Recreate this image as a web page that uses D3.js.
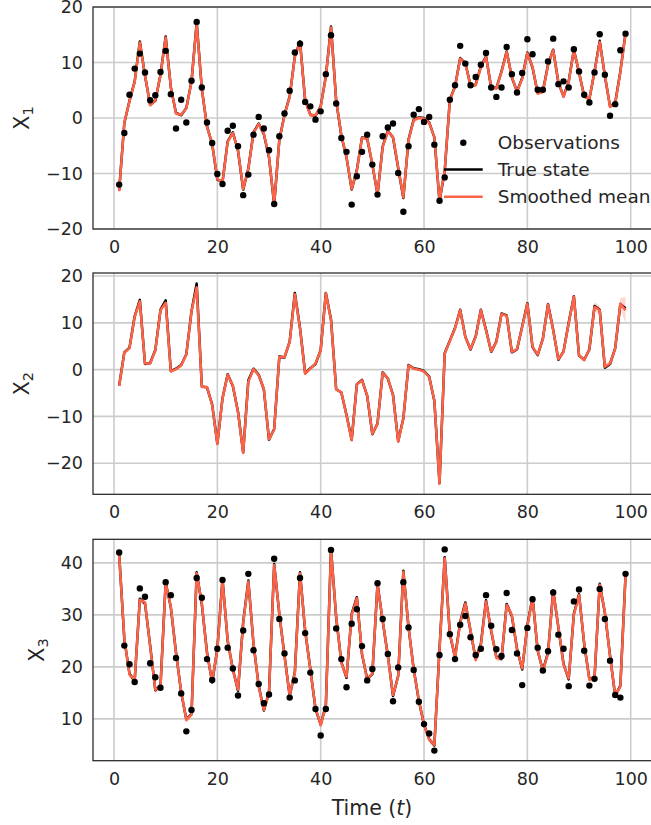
<!DOCTYPE html>
<html><head><meta charset="utf-8">
<script src="https://cdn.jsdelivr.net/npm/d3@7"></script>
<style>
body{margin:0;background:#fff}
svg{display:block}
text{font-family:"DejaVu Sans",sans-serif;fill:#262626}
</style>
</head><body><div id="chart"></div>
<script>
// ---------- data ----------
const time = [1,2,3,4,5,6,7,8,9,10,11,12,13,14,15,16,17,18,19,20,21,22,23,24,25,26,27,28,29,30,31,32,33,34,35,36,37,38,39,40,41,42,43,44,45,46,47,48,49,50,51,52,53,54,55,56,57,58,59,60,61,62,63,64,65,66,67,68,69,70,71,72,73,74,75,76,77,78,79,80,81,82,83,84,85,86,87,88,89,90,91,92,93,94,95,96,97,98,99];

const x1Obs = [-12.0,-2.7,4.2,8.9,11.6,8.2,3.2,4.1,8.3,12.1,4.3,-1.9,3.3,-0.8,6.7,17.3,5.5,-0.8,-4.5,-10.1,
  -11.9,-2.3,-1.4,-5.1,-13.9,-10.2,-3.0,0.2,-1.9,-5.8,-15.5,-3.3,0.8,4.9,11.8,13.4,2.9,2.1,-0.3,1.2,
  7.9,14.9,2.6,-3.6,-6.1,-15.6,-10.5,-6.1,-3.0,-8.4,-13.8,-3.3,-1.7,-1.0,-9.9,-16.9,-5.1,0.6,1.6,-0.7,
  0.2,-4.8,-14.9,-10.7,3.3,5.9,13.0,9.8,5.9,7.4,9.6,11.7,5.5,3.8,5.5,12.8,7.9,4.6,8.1,14.2,
  11.5,5.1,5.1,10.2,14.3,6.1,6.6,5.5,12.4,8.4,4.2,2.8,8.2,15.1,7.8,0.4,2.5,12.2,15.2];
const x1Mean = [-13.2,-0.8,3.0,6.5,13.6,7.7,2.3,3.2,7.7,14.5,5.6,0.8,0.6,1.7,6.5,16.9,5.3,-1.6,-4.6,-11.0,
  -11.6,-4.3,-2.7,-5.8,-12.8,-9.2,-2.7,-1.1,-2.8,-7.0,-15.5,-4.0,0.5,3.8,11.0,13.6,3.2,0.5,0.5,2.0,
  7.4,16.3,3.2,-3.1,-7.0,-12.8,-9.5,-3.6,-3.6,-8.3,-13.7,-5.2,-2.4,-3.4,-8.9,-14.3,-4.0,-0.4,0.0,-0.1,
  -0.9,-3.4,-14.9,-9.5,3.2,5.6,10.7,9.8,5.9,5.9,9.2,11.0,5.6,5.3,8.3,11.9,7.4,4.7,7.1,11.7,
  9.2,4.4,4.7,9.5,12.2,6.5,3.8,6.5,12.2,8.3,3.8,3.5,8.3,13.7,7.7,2.0,2.6,8.3,15.2];
const x1True = [-13.0,-0.9,3.1,6.6,13.8,7.6,2.4,3.1,7.8,14.7,5.5,0.9,0.5,1.8,6.6,17.2,5.2,-1.5,-4.7,-11.1,
  -11.5,-4.2,-2.6,-5.9,-12.9,-9.1,-2.6,-1.0,-2.9,-7.1,-15.6,-3.9,0.6,3.9,11.1,13.8,3.1,0.6,0.4,2.1,
  7.5,16.5,3.1,-3.2,-7.1,-12.9,-9.4,-3.5,-3.7,-8.4,-13.8,-5.1,-2.3,-3.5,-9.0,-14.4,-3.9,-0.3,0.1,0.0,
  -0.8,-3.5,-15.0,-9.6,3.3,5.7,10.8,9.9,5.8,6.0,9.3,11.1,5.5,5.4,8.4,12.0,7.3,4.8,7.2,11.8,
  9.1,4.5,4.8,9.6,12.3,6.4,3.9,6.6,12.3,8.2,3.9,3.4,8.4,13.9,7.6,2.1,2.7,8.4,15.3];

const x2Mean = [-3.5,3.6,4.6,11.3,14.6,1.3,1.3,4.1,12.7,14.3,-0.4,0.1,0.9,3.2,12.4,17.6,-3.7,-3.7,-7.6,-15.9,
  -6.2,-1.1,-3.4,-9.1,-17.8,-2.6,0.1,-1.2,-4.1,-14.9,-12.8,2.7,2.7,5.9,16.1,8.8,-0.9,0.2,1.3,4.1,
  16.3,10.6,-4.3,-4.8,-9.8,-15.1,-3.2,-2.3,-5.5,-13.7,-11.6,-0.7,-1.8,-5.5,-15.4,-10.5,0.9,0.2,0.0,-0.4,
  -1.6,-6.6,-24.4,3.4,6.1,8.8,12.7,6.9,4.4,7.0,12.7,8.4,3.9,5.9,11.9,11.5,3.8,4.4,9.1,14.1,
  4.9,3.2,6.5,13.9,8.4,2.2,3.8,9.9,15.6,3.1,2.0,4.4,13.4,12.7,0.6,1.3,4.5,14.1,12.7];
const x2True = [-3.4,3.7,4.7,11.4,14.9,1.2,1.4,4.2,12.8,14.8,-0.3,0.2,1.0,3.3,12.5,18.4,-3.6,-3.8,-7.5,-15.8,
  -6.1,-1.0,-3.5,-9.0,-17.7,-2.3,0.2,-1.1,-4.2,-15.0,-12.7,2.8,2.6,6.0,16.4,8.9,-0.8,0.3,1.2,4.2,
  16.4,10.7,-4.2,-4.9,-9.7,-15.0,-3.1,-2.2,-5.6,-13.8,-11.5,-0.6,-1.9,-5.4,-15.3,-10.4,1.0,0.3,0.1,-0.3,
  -1.5,-6.7,-24.3,3.5,6.2,8.9,12.8,7.0,4.3,7.1,12.8,8.5,3.8,6.0,12.0,11.6,3.7,4.3,9.2,14.2,
  4.8,3.1,6.6,14.0,8.5,2.1,3.9,10.0,15.7,3.0,2.1,4.3,13.6,12.8,0.4,1.2,4.6,14.0,13.1];

const x3Obs = [42.0,24.1,20.5,17.1,35.1,33.5,20.7,18.0,16.0,36.3,33.8,21.7,14.9,7.6,11.7,37.1,33.3,21.5,17.5,23.5,
  36.7,23.7,19.7,14.5,27.0,37.9,23.2,16.7,13.0,14.7,40.8,29.2,22.6,14.1,17.4,37.1,26.5,18.9,11.9,6.8,
  11.9,42.5,27.4,21.5,16.1,28.3,31.1,24.0,17.4,19.6,36.1,29.2,22.5,13.4,19.9,36.3,27.6,19.4,13.3,9.0,
  7.2,3.9,22.3,42.6,26.3,21.5,28.1,29.8,25.7,22.3,23.5,33.8,27.9,23.4,22.1,34.2,27.1,22.6,16.5,27.5,
  33.0,23.7,19.3,23.0,34.3,26.2,23.5,16.3,32.6,34.9,23.1,16.4,17.7,35.0,29.2,21.2,14.6,14.1,37.9];
const x3Mean = [41.5,25.5,18.5,17.5,32.9,32.4,23.9,15.6,16.2,36.1,31.6,22.6,15.3,9.8,10.8,38.0,32.2,22.6,17.2,23.3,
  36.7,25.2,19.4,15.6,28.4,36.4,24.6,16.2,11.7,14.9,39.6,30.3,22.0,14.6,18.8,38.0,27.1,19.4,12.1,8.8,
  12.4,42.5,29.7,20.7,18.1,30.0,33.2,22.6,17.5,18.8,35.8,29.0,22.0,14.6,18.1,38.3,27.8,19.4,13.7,8.8,
  6.0,5.0,23.3,40.9,26.5,21.7,28.4,32.2,27.1,21.3,24.2,32.6,27.1,21.7,21.7,31.9,30.0,23.3,19.7,27.8,
  33.2,23.3,19.1,22.6,34.5,27.8,20.4,17.8,30.0,33.8,24.6,17.5,18.1,35.8,30.6,22.0,14.6,16.2,37.4];
const x3True = [41.7,25.3,18.7,17.3,33.1,32.2,24.1,15.5,16.4,36.3,31.4,22.8,15.1,9.9,10.9,38.2,32.0,22.8,17.0,23.5,
  36.9,25.0,19.6,15.4,28.6,36.6,24.4,16.4,11.6,15.1,39.8,30.1,22.2,14.4,19.0,38.2,26.9,19.6,11.9,8.9,
  12.6,42.6,29.5,20.9,17.9,30.2,33.4,22.4,17.7,18.6,36.0,28.8,22.2,14.4,18.3,38.5,27.6,19.6,13.5,8.9,
  6.1,4.9,23.5,41.1,26.3,21.9,28.6,32.4,26.9,21.5,24.4,32.8,26.9,21.9,21.5,32.1,29.8,23.5,19.5,28.0,
  33.4,23.1,19.3,22.8,34.7,27.6,20.6,17.6,30.2,34.0,24.4,17.7,17.9,36.0,30.4,22.2,14.4,16.4,37.6];

// posterior standard deviation (band half-width)
const x1Sd = 0.35;
const x2Sd = 0.3;
const x2SdTail = [1.0,1.0,0.6,0.6,0.8,1.2,2.8];   // t = 93..99
const x3Sd = 0.6;

const xTicks = [0,20,40,60,80,100];
const yTicks1 = [-20,-10,0,10,20];
const yTicks2 = [-20,-10,0,10,20];
const yTicks3 = [10,20,30,40];
const legendLabels = ["Observations","True state","Smoothed mean"];

// ---------- drawing ----------
const W = 651, H = 825;
const RED = "#ff6347";
const svg = d3.select("#chart").append("svg").attr("width", W).attr("height", H);
const x = d3.scaleLinear().domain([0,100]).range([114, 630.7]);
const plotLeft = 93, plotRight = 672;

const panels = [
  {top:7, bottom:229, domain:[-20,20], ticks:yTicks1, sub:"1", labelX:28.5,
   obs:x1Obs, truth:x1True, mean:x1Mean, sd:time.map(() => x1Sd)},
  {top:273, bottom:494.3, domain:[-26.65,20.65], ticks:yTicks2, sub:"2", labelX:28.5,
   obs:null, truth:x2True, mean:x2Mean, sd:time.map(t => t >= 93 ? x2SdTail[t-93] : x2Sd)},
  {top:539.3, bottom:760.7, domain:[1.96,44.54], ticks:yTicks3, sub:"3", labelX:43.5,
   obs:x3Obs, truth:x3True, mean:x3Mean, sd:time.map(() => x3Sd)}
];

panels.forEach((p, pi) => {
  const y = d3.scaleLinear().domain(p.domain).range([p.bottom, p.top]);
  const g = svg.append("g");

  // grid
  g.append("g").selectAll("line").data(xTicks).join("line")
    .attr("x1", d => x(d)).attr("x2", d => x(d))
    .attr("y1", p.top).attr("y2", p.bottom)
    .attr("stroke", "#cccccc").attr("stroke-width", 1.6);
  g.append("g").selectAll("line").data(p.ticks).join("line")
    .attr("x1", plotLeft).attr("x2", plotRight)
    .attr("y1", d => y(d)).attr("y2", d => y(d))
    .attr("stroke", "#cccccc").attr("stroke-width", 1.6);

  // band
  const band = d3.area()
    .x((d,i) => x(time[i]))
    .y0((d,i) => y(p.mean[i] - p.sd[i]))
    .y1((d,i) => y(p.mean[i] + p.sd[i]));
  g.append("path").datum(p.mean).attr("d", band)
    .attr("fill", RED).attr("fill-opacity", 0.25).attr("stroke", "none");

  const line = d3.line().x((d,i) => x(time[i])).y(d => y(d));
  g.append("path").datum(p.truth).attr("d", line)
    .attr("fill","none").attr("stroke","#000").attr("stroke-width",2.5)
    .attr("stroke-linejoin","round");
  g.append("path").datum(p.mean).attr("d", line)
    .attr("fill","none").attr("stroke",RED).attr("stroke-width",2.5)
    .attr("stroke-linejoin","round");

  if (p.obs) {
    g.append("g").selectAll("circle").data(p.obs).join("circle")
      .attr("cx", (d,i) => x(time[i])).attr("cy", d => y(d)).attr("r", 3.2)
      .attr("fill", "#000");
  }

  // spines (right spine lies outside the visible canvas)
  g.append("rect").attr("x", plotLeft).attr("y", p.top)
    .attr("width", plotRight - plotLeft).attr("height", p.bottom - p.top)
    .attr("fill","none").attr("stroke","#262626").attr("stroke-width",1.25);

  // axes
  const ya = g.append("g").attr("transform", `translate(${plotLeft},0)`)
    .call(d3.axisLeft(y).tickValues(p.ticks).tickSize(0).tickPadding(10)
      .tickFormat(d => d3.format("d")(d).replace("-", "\u2212")));
  ya.select(".domain").remove();
  ya.selectAll("text").attr("font-size", 17.5).attr("fill", "#262626")
    .style("font-family", '"DejaVu Sans", sans-serif');

  const xa = g.append("g").attr("transform", `translate(0,${p.bottom})`)
    .call(d3.axisBottom(x).tickValues(xTicks).tickSize(0).tickPadding(11.5).tickFormat(d3.format("d")));
  xa.select(".domain").remove();
  xa.selectAll("text").attr("font-size", 17.5).attr("fill", "#262626")
    .style("font-family", '"DejaVu Sans", sans-serif');

  // y label
  const cy = (p.top + p.bottom) / 2;
  const lab = g.append("text")
    .attr("transform", `translate(${p.labelX},${cy}) rotate(-90)`)
    .attr("text-anchor", "middle").attr("font-size", 20.5);
  lab.append("tspan").text("X");
  lab.append("tspan").attr("font-size", 14.5).attr("dy", 4).text(p.sub);

  // legend (first panel)
  if (pi === 0) {
    const lg = svg.append("g");
    const rows = [142.7, 169.5, 196.7];
    lg.append("circle").attr("cx", 463.3).attr("cy", rows[0]).attr("r", 3.2).attr("fill", "#000");
    lg.append("line").attr("x1", 444).attr("x2", 482.7).attr("y1", rows[1]).attr("y2", rows[1])
      .attr("stroke", "#000").attr("stroke-width", 2.5);
    lg.append("line").attr("x1", 444).attr("x2", 482.7).attr("y1", rows[2]).attr("y2", rows[2])
      .attr("stroke", RED).attr("stroke-width", 2.5);
    lg.selectAll("text").data(legendLabels).join("text")
      .attr("x", 497.7).attr("y", (d,i) => rows[i]).attr("dy", "0.36em")
      .attr("font-size", 18.5).text(d => d);
  }
});

// x label
const xl = svg.append("text").attr("x", 372).attr("y", 815)
  .attr("text-anchor", "middle").attr("font-size", 20.5);
xl.append("tspan").text("Time (");
xl.append("tspan").attr("font-style", "italic").text("t");
xl.append("tspan").text(")");
</script>
</body></html>
